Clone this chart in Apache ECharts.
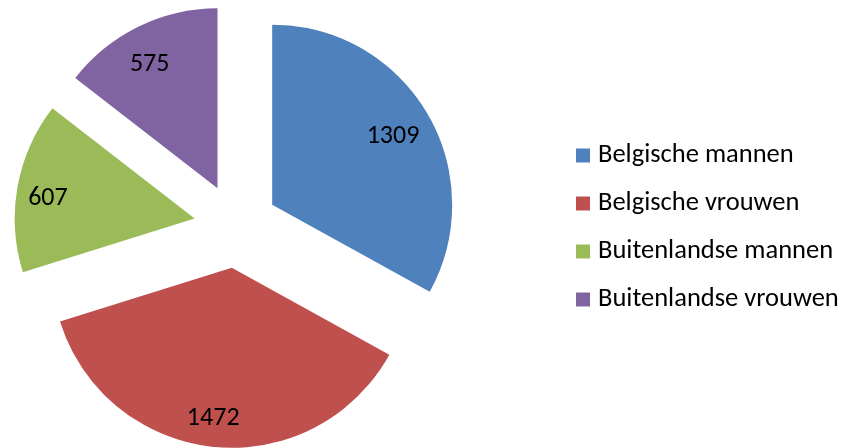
<!DOCTYPE html>
<html>
<head>
<meta charset="utf-8">
<script src="https://cdn.jsdelivr.net/npm/echarts@6/dist/echarts.min.js"></script>
<style>
  html, body { margin: 0; padding: 0; background: #fff; }
  #chart { width: 841px; height: 448px; }
</style>
</head>
<body>
<div id="chart"></div>
<script type="text/javascript">
  var categories = ['Belgische mannen', 'Belgische vrouwen', 'Buitenlandse mannen', 'Buitenlandse vrouwen'];
  var values = [1309, 1472, 607, 575];
  var colors = ['#4F81BD', '#C0504D', '#9BBB59', '#8064A2'];

  var font = 'Carlito, "Open Sans", sans-serif';
  var myChart = echarts.init(document.getElementById('chart'));

  // slices, all pulled out from the centre
  var sliceData = categories.map(function (name, i) {
    return { name: name, value: values[i], selected: true, itemStyle: { color: colors[i] } };
  });
  // same slices again, transparent, only to carry the labels further out
  var labelData = categories.map(function (name, i) {
    return { name: name, value: values[i], selected: true };
  });

  var option = {
    backgroundColor: '#fff',
    animation: false,
    legend: {
      orient: 'vertical',
      left: 571,
      top: 137,
      itemWidth: 14,
      itemHeight: 14,
      itemGap: 21,
      icon: 'rect',
      data: categories.map(function (name, i) {
        return { name: name, itemStyle: { color: colors[i] } };
      }),
      textStyle: { fontSize: 26.5, color: '#000', fontFamily: font, padding: [0, 0, 0, 3] }
    },
    series: [
      {
        type: 'pie',
        center: [236, 226],
        radius: [0, 180],
        startAngle: 90,
        clockwise: true,
        selectedMode: 'multiple',
        selectedOffset: 42,
        emphasis: { disabled: true },
        label: { show: false },
        labelLine: { show: false },
        data: sliceData
      },
      {
        type: 'pie',
        center: [232, 232],
        radius: [104, 180],
        startAngle: 90,
        clockwise: true,
        silent: true,
        selectedMode: 'multiple',
        selectedOffset: 42,
        emphasis: { disabled: true },
        itemStyle: { color: 'rgba(0,0,0,0)' },
        label: {
          show: true,
          position: 'inside',
          formatter: '{c}',
          fontSize: 26,
          color: '#000',
          fontFamily: font
        },
        labelLine: { show: false },
        data: labelData
      }
    ]
  };
  myChart.setOption(option);
</script>
</body>
</html>
